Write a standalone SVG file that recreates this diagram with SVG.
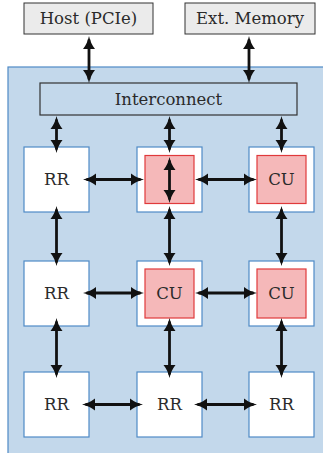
<svg xmlns="http://www.w3.org/2000/svg" width="323" height="453" viewBox="0 0 323 453">
<style>
  text { font-family: "DejaVu Serif", serif; font-size: 16.5px; fill: #2a2a2a; text-anchor: middle; dominant-baseline: central; }
  .ext { fill: #ebebeb; stroke: #333; stroke-width: 1; }
  .bg { fill: #c3d8eb; stroke: #4f8ac6; stroke-width: 1.2; }
  .ic { fill: #c3d8eb; stroke: #333; stroke-width: 1.2; }
  .rr { fill: #ffffff; stroke: #4f8ac6; stroke-width: 1.2; }
  .cu { fill: #f5b8b9; stroke: #e0393b; stroke-width: 1.2; }
  .arr { stroke: #111; stroke-width: 2.8; fill: none; marker-start: url(#ah); marker-end: url(#ah); }
</style>
<defs>
  <marker id="ah" viewBox="0 -7 13 14" refX="9.5" refY="0" markerWidth="13" markerHeight="14" markerUnits="userSpaceOnUse" orient="auto-start-reverse">
    <path d="M13,0 Q5.5,1.6 0,6 L0,-6 Q5.5,-1.6 13,0 Z" fill="#111"/>
  </marker>
</defs>
<rect class="bg" x="8" y="67" width="330" height="400"/>
<g id="host"><rect class="ext" x="24" y="3" width="129" height="31"/><text x="88.5" y="18.5">Host (PCIe)</text></g>
<g id="extmem"><rect class="ext" x="185" y="3" width="130" height="31"/><text x="250" y="18.5">Ext. Memory</text></g>
<g id="interconnect"><rect class="ic" x="40" y="83" width="257" height="32"/><text x="168.5" y="99">Interconnect</text></g>
<g id="n11"><rect class="rr" x="24" y="147" width="65" height="65"/><text x="56.5" y="179.5">RR</text></g>
<g id="n12"><rect class="rr" x="137" y="147" width="65" height="65"/><rect class="cu" x="145" y="155.5" width="49" height="48"/></g>
<g id="n13"><rect class="rr" x="249" y="147" width="65" height="65"/><rect class="cu" x="257" y="155.5" width="49" height="48"/><text x="281.5" y="179.5">CU</text></g>
<g id="n21"><rect class="rr" x="24" y="261" width="65" height="65"/><text x="56.5" y="293.5">RR</text></g>
<g id="n22"><rect class="rr" x="137" y="261" width="65" height="65"/><rect class="cu" x="145" y="269" width="49" height="49"/><text x="169.5" y="293.5">CU</text></g>
<g id="n23"><rect class="rr" x="249" y="261" width="65" height="65"/><rect class="cu" x="257" y="269" width="49" height="49"/><text x="281.5" y="293.5">CU</text></g>
<g id="n31"><rect class="rr" x="24" y="372" width="65" height="65"/><text x="56.5" y="404.5">RR</text></g>
<g id="n32"><rect class="rr" x="137" y="372" width="65" height="65"/><text x="169.5" y="404.5">RR</text></g>
<g id="n33"><rect class="rr" x="249" y="372" width="65" height="65"/><text x="281.5" y="404.5">RR</text></g>
<g id="connectors">
  <line class="arr" x1="89" y1="39.5" x2="89" y2="79.5"/>
  <line class="arr" x1="249" y1="39.5" x2="249" y2="79.5"/>
  <line class="arr" x1="56.5" y1="119.5" x2="56.5" y2="149.5"/>
  <line class="arr" x1="169.5" y1="119.5" x2="169.5" y2="149.5"/>
  <line class="arr" x1="281.5" y1="119.5" x2="281.5" y2="149.5"/>
  <line class="arr" x1="169.5" y1="160.5" x2="169.5" y2="199.5"/>
  <line class="arr" x1="56.5" y1="209.5" x2="56.5" y2="262.5"/>
  <line class="arr" x1="169.5" y1="209.5" x2="169.5" y2="262.5"/>
  <line class="arr" x1="281.5" y1="209.5" x2="281.5" y2="262.5"/>
  <line class="arr" x1="56.5" y1="321.5" x2="56.5" y2="374.5"/>
  <line class="arr" x1="169.5" y1="321.5" x2="169.5" y2="374.5"/>
  <line class="arr" x1="281.5" y1="321.5" x2="281.5" y2="374.5"/>
  <line class="arr" x1="86.5" y1="179.5" x2="140.5" y2="179.5"/>
  <line class="arr" x1="198.5" y1="179.5" x2="253.5" y2="179.5"/>
  <line class="arr" x1="86.5" y1="293" x2="140.5" y2="293"/>
  <line class="arr" x1="198.5" y1="293" x2="253.5" y2="293"/>
  <line class="arr" x1="85.5" y1="404.5" x2="139.5" y2="404.5"/>
  <line class="arr" x1="197.5" y1="404.5" x2="253.5" y2="404.5"/>
</g>
</svg>
